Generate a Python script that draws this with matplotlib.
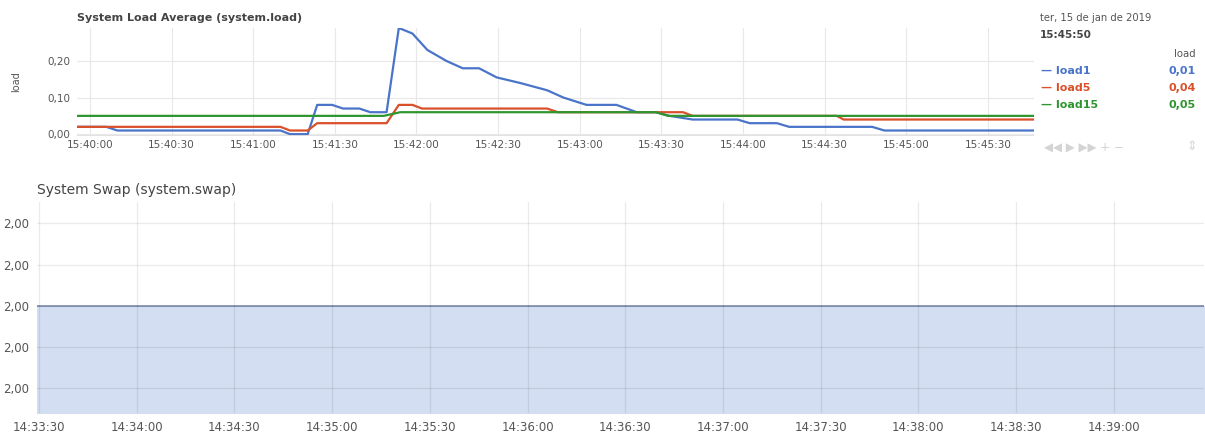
import numpy as np
import matplotlib.pyplot as plt
from matplotlib.ticker import FuncFormatter

# --- data ---------------------------------------------------------------
# system.load: seconds after 15:40:00
load1_t = [-5, 6, 10, 70, 73.5, 80, 83.5, 89, 93, 99, 103, 109, 113.5, 118.5,
           124, 131, 137, 143, 149.5, 158, 168, 174, 182.5, 193.5, 201, 208,
           213, 221.5, 238, 242.5, 252.5, 257, 287.5, 292, 348]
load1_v = [0.02, 0.02, 0.01, 0.01, 0.0, 0.0, 0.08, 0.08, 0.07, 0.07, 0.06, 0.06,
           0.29, 0.275, 0.23, 0.20, 0.18, 0.18, 0.155, 0.14, 0.12, 0.10, 0.08,
           0.08, 0.06, 0.06, 0.05, 0.04, 0.04, 0.03, 0.03, 0.02, 0.02, 0.01, 0.01]

load5_t = [-5, 70, 73.5, 80, 83.5, 109, 113.5, 118.5, 122, 168, 172, 218,
           221.5, 274.5, 277, 348]
load5_v = [0.02, 0.02, 0.01, 0.01, 0.03, 0.03, 0.08, 0.08, 0.07, 0.07, 0.06,
           0.06, 0.05, 0.05, 0.04, 0.04]

load15_t = [-5, 108, 114, 208, 212.5, 348]
load15_v = [0.05, 0.05, 0.06, 0.06, 0.05, 0.05]

load_ticks = [0, 30, 60, 90, 120, 150, 180, 210, 240, 270, 300, 330]
load_tick_labels = ["15:40:00", "15:40:30", "15:41:00", "15:41:30", "15:42:00",
                    "15:42:30", "15:43:00", "15:43:30", "15:44:00", "15:44:30",
                    "15:45:00", "15:45:30"]

legend_names = ["load1", "load5", "load15"]
legend_values = ["0,01", "0,04", "0,05"]

# system.swap: seconds after 14:33:30, constant value
swap_t = [-1, 358]
swap_v = [2.000, 2.000]
swap_yticks = [1.998, 1.999, 2.000, 2.001, 2.002]
swap_ticks = [0, 30, 60, 90, 120, 150, 180, 210, 240, 270, 300, 330]
swap_tick_labels = ["14:33:30", "14:34:00", "14:34:30", "14:35:00", "14:35:30",
                    "14:36:00", "14:36:30", "14:37:00", "14:37:30", "14:38:00",
                    "14:38:30", "14:39:00"]

colors = ["#4a74c9", "#d9502a", "#2f962f"]
grid_c = "#e8e8e8"
text_c = "#555555"

fig = plt.figure(figsize=(12.05, 4.37), dpi=100)

# --- top chart ----------------------------------------------------------
ax1 = fig.add_axes([77 / 1205, 1 - 136 / 437, (1034 - 77) / 1205, 108 / 437])
ax1.plot(load1_t, load1_v, color=colors[0], lw=1.6)
ax1.plot(load5_t, load5_v, color=colors[1], lw=1.6)
ax1.plot(load15_t, load15_v, color=colors[2], lw=1.6)
ax1.set_xlim(-4.8, 347)
ax1.set_ylim(-0.005, 0.29)
ax1.set_yticks([0.0, 0.1, 0.2])
ax1.yaxis.set_major_formatter(FuncFormatter(lambda v, p: f"{v:.2f}".replace(".", ",")))
ax1.set_xticks(load_ticks)
ax1.set_xticklabels(load_tick_labels)
ax1.tick_params(length=0, labelsize=7.5, colors=text_c, pad=3)
ax1.tick_params(axis="y", pad=5)
ax1.grid(True, color=grid_c, lw=0.8)
for s in ax1.spines.values():
    s.set_visible(False)
ax1.axhline(-0.005, color="#dddddd", lw=1.2)
ax1.set_ylabel("load", fontsize=7, color=text_c, labelpad=19)
fig.text(77 / 1205, 1 - 18 / 437, "System Load Average (system.load)",
         fontsize=8, fontweight="bold", color="#444444", va="center")

# legend panel on the right
fig.text(1040 / 1205, 1 - 18 / 437, "ter, 15 de jan de 2019", fontsize=7.2,
         color=text_c, va="center")
fig.text(1040 / 1205, 1 - 35 / 437, "15:45:50", fontsize=7.5, fontweight="bold",
         color="#444444", va="center")
fig.text(1196 / 1205, 1 - 54 / 437, "load", fontsize=7.3, color=text_c,
         va="center", ha="right")
for i, (name, val) in enumerate(zip(legend_names, legend_values)):
    y = 1 - (71 + 17 * i) / 437
    fig.text(1041 / 1205, y, "— " + name, fontsize=8, fontweight="bold",
             color=colors[i], va="center")
    fig.text(1196 / 1205, y, val, fontsize=8, fontweight="bold",
             color=colors[i], va="center", ha="right")
fig.text(1044 / 1205, 1 - 147 / 437, "◀◀ ▶ ▶▶ + −", fontsize=8.5,
         color="#d4d4d4", va="center")
fig.text(1197 / 1205, 1 - 147 / 437, "⇕", fontsize=9, color="#d4d4d4",
         va="center", ha="right")

# --- bottom chart -------------------------------------------------------
ax2 = fig.add_axes([37 / 1205, 1 - 413 / 437, (1204 - 37) / 1205, 211 / 437])
ax2.fill_between(swap_t, swap_v, 1.99, color="#d3def2", lw=0)
ax2.plot(swap_t, swap_v, color="#8e9cba", lw=1.4)
ax2.set_xlim(-0.6, 357.7)
ax2.set_ylim(1.99740, 2.00252)
ax2.set_yticks(swap_yticks)
ax2.yaxis.set_major_formatter(FuncFormatter(lambda v, p: f"{v:.2f}".replace(".", ",")))
ax2.set_xticks(swap_ticks)
ax2.set_xticklabels(swap_tick_labels)
ax2.tick_params(length=0, labelsize=8.5, colors=text_c)
ax2.tick_params(axis="y", pad=6)
ax2.tick_params(axis="x", pad=6)
ax2.grid(True, color="#000000", alpha=0.08, lw=0.9)
ax2.set_axisbelow(False)
for s in ax2.spines.values():
    s.set_visible(False)
fig.text(37 / 1205, 1 - 190 / 437, "System Swap (system.swap)", fontsize=10,
         color="#444444", va="center")

fig.savefig("out.png", dpi=100)
